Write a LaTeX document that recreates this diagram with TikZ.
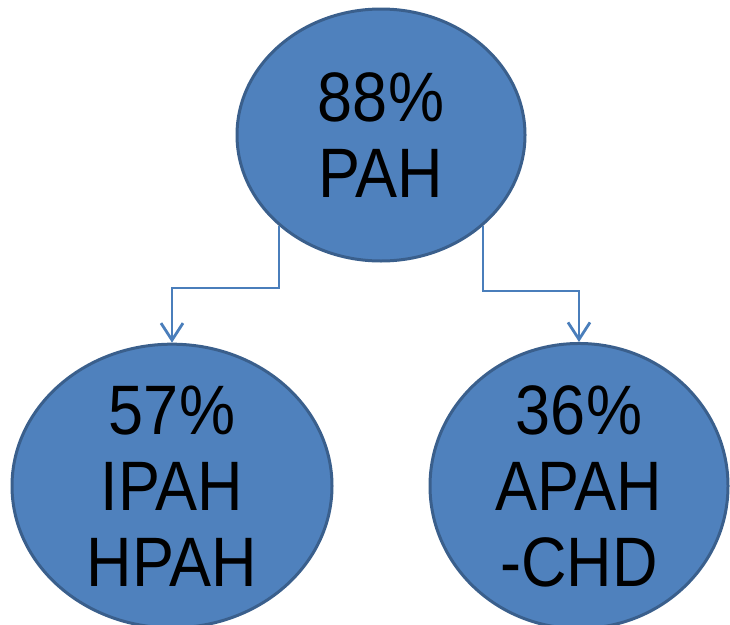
\documentclass[tikz,border=0pt]{standalone}
\usepackage{fontspec}
\newfontfamily\dfont[FakeStretch=0.9]{Liberation Sans}
\usetikzlibrary{shapes.geometric,arrows.meta}
\definecolor{efill}{HTML}{4F81BD}
\definecolor{eline}{HTML}{3A5F8C}
\definecolor{cline}{HTML}{4A7EBB}
\begin{document}
\begin{tikzpicture}[x=1pt,y=-1pt,
  bubble/.style={ellipse,draw=eline,line width=3pt,fill=efill,inner sep=0pt,
    align=center,text=black,font=\dfont\fontsize{70}{76}\selectfont},
  conn/.style={draw=cline,line width=1.7pt,
    -{Straight Barb[length=17pt,width=22pt,line width=2.8pt]}}]
\useasboundingbox (0,0) rectangle (730,624);
\node[bubble,minimum width=288pt,minimum height=252pt] (top) at (381,135) {88\%\\PAH};
\node[bubble,minimum width=320pt,minimum height=270pt] (left) at (172,486) {57\%\\IPAH\\HPAH};
\node[bubble,minimum width=298pt,minimum height=257pt] (right) at (579,486) {36\%\\APAH\\-CHD};
\coordinate (s1) at (279,226);
\coordinate (s2) at (483,226);
\draw[conn] (s1) -- ++(0,62) -| (left.north);
\draw[conn] (s2) -- ++(0,65) -| (right.north);
\end{tikzpicture}
\end{document}
